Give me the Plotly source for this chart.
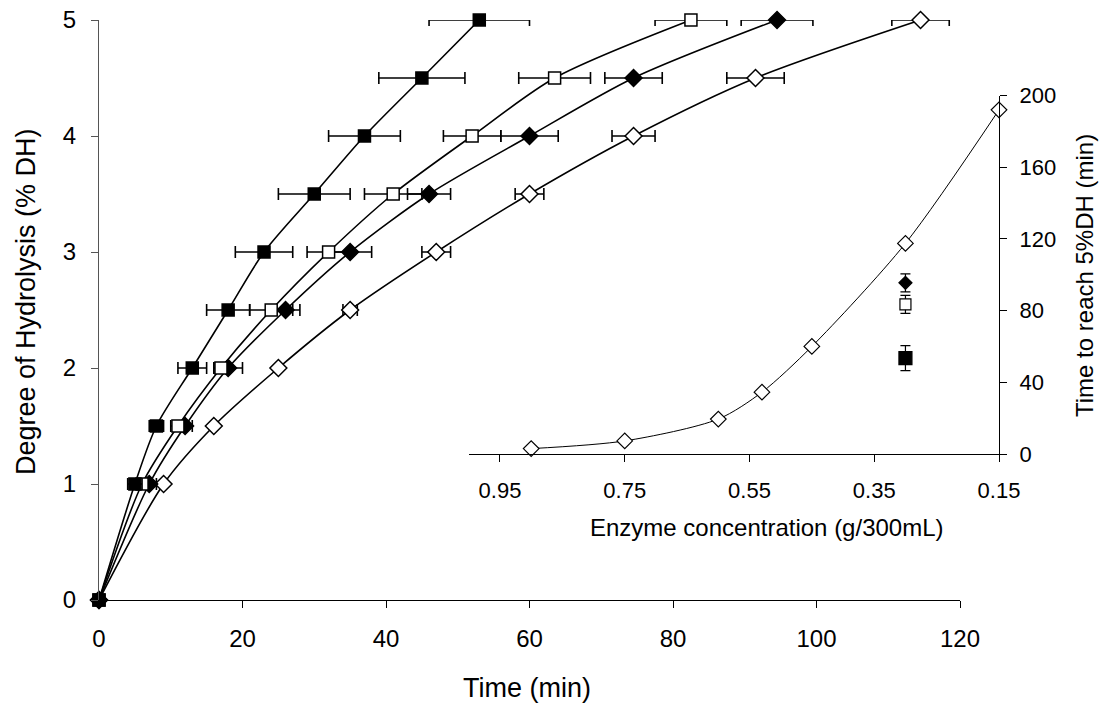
import plotly.graph_objects as go

# Degree of hydrolysis levels (% DH)
dh_levels = [0, 1, 1.5, 2, 2.5, 3, 3.5, 4, 4.5, 5]

# Time (min) needed to reach each DH level, per enzyme dose
time_sq_filled = [0, 5, 8, 13, 18, 23, 30, 37, 45, 53]
err_sq_filled = [0, 1, 1, 2, 3, 4, 5, 5, 6, 7]

time_sq_open = [0, 6, 11, 17, 24, 32, 41, 52, 63.5, 82.5]
err_sq_open = [0, 1, 1, 1, 3, 3, 4, 4, 5, 5]

time_dia_filled = [0, 7, 12, 18, 26, 35, 46, 60, 74.5, 94.5]
err_dia_filled = [0, 1, 1, 2, 2, 3, 3, 4, 4, 5]

time_dia_open = [0, 9, 16, 25, 35, 47, 60, 74.5, 91.5, 114.5]
err_dia_open = [0, 0, 0, 0, 1, 2, 2, 3, 4, 4]

# Inset: time to reach 5 %DH versus enzyme concentration
enzyme_conc = [0.90, 0.75, 0.60, 0.53, 0.45, 0.30, 0.15]
time_to_5dh = [3, 7.3, 19.5, 34.5, 60, 117.5, 192]

inset_conc_single = [0.30]
inset_dia_filled = [95.5]
inset_dia_filled_err = [5]
inset_sq_open = [83.5]
inset_sq_open_err = [5]
inset_sq_filled = [53.5]
inset_sq_filled_err = [7]

inset_tick_vals = [0.95, 0.75, 0.55, 0.35, 0.15]
inset_tick_text = ["0.95", "0.75", "0.55", "0.35", "0.15"]

FONT = "Liberation Sans, Arial, sans-serif"
W, H = 1107, 707

fig = go.Figure()


def main_series(x, err, symbol, fill, size):
    fig.add_trace(go.Scatter(
        x=x, y=dh_levels, mode="lines+markers",
        line=dict(color="black", width=1.6, shape="spline", smoothing=0.8),
        marker=dict(symbol=symbol, size=size, color=fill,
                    line=dict(color="black", width=1.5)),
        error_x=dict(type="data", array=err, color="black",
                     thickness=1.6, width=6),
        cliponaxis=False, showlegend=False,
        xaxis="x", yaxis="y",
    ))


main_series(time_dia_open, err_dia_open, "diamond", "white", 13)
main_series(time_dia_filled, err_dia_filled, "diamond", "black", 13)
main_series(time_sq_open, err_sq_open, "square", "white", 12)
main_series(time_sq_filled, err_sq_filled, "square", "black", 12)

# Inset traces
fig.add_trace(go.Scatter(
    x=enzyme_conc, y=time_to_5dh, mode="lines+markers",
    line=dict(color="black", width=1, shape="spline", smoothing=0.8),
    marker=dict(symbol="diamond", size=12, color="white",
                line=dict(color="black", width=1.2)),
    cliponaxis=False, showlegend=False, xaxis="x2", yaxis="y2",
))


def inset_point(y, err, symbol, fill, size):
    fig.add_trace(go.Scatter(
        x=inset_conc_single, y=y, mode="markers",
        marker=dict(symbol=symbol, size=size, color=fill,
                    line=dict(color="black", width=1.2)),
        error_y=dict(type="data", array=err, color="black",
                     thickness=1.2, width=5),
        cliponaxis=False, showlegend=False, xaxis="x2", yaxis="y2",
    ))


inset_point(inset_dia_filled, inset_dia_filled_err, "diamond", "black", 10)
inset_point(inset_sq_open, inset_sq_open_err, "square", "white", 11)
inset_point(inset_sq_filled, inset_sq_filled_err, "square", "black", 13)

axis_common = dict(showgrid=False, zeroline=False, showline=True,
                   automargin=False,
                   ticks="outside", ticklen=7, tickwidth=1.2, linewidth=1.2)

fig.update_layout(
    template="none",
    width=W, height=H,
    margin=dict(l=0, r=0, t=0, b=0, pad=0),
    paper_bgcolor="white", plot_bgcolor="rgba(0,0,0,0)",
    font=dict(family=FONT, color="black"),
    xaxis=dict(domain=[99 / W, 960 / W], range=[0, 120], dtick=20,
               tickfont=dict(size=24), ticklabelstandoff=10,
               linecolor="black", tickcolor="black",
               anchor="y", **axis_common),
    yaxis=dict(domain=[(H - 600) / H, (H - 20) / H], range=[0, 5], dtick=1,
               tickfont=dict(size=24), ticklabelstandoff=10,
               linecolor="#555555", tickcolor="#555555",
               anchor="x", **axis_common),
    xaxis2=dict(domain=[468.8 / W, 999 / W], range=[1.0, 0.15],
                tickvals=inset_tick_vals, ticktext=inset_tick_text,
                tickfont=dict(size=22), ticklabelstandoff=9,
                linecolor="black", tickcolor="black",
                anchor="y2", **axis_common),
    yaxis2=dict(domain=[(H - 454) / H, (H - 95.5) / H], range=[0, 200],
                dtick=40, side="right", tickfont=dict(size=22),
                ticklabelstandoff=8, linecolor="black", tickcolor="black",
                anchor="x2", **axis_common),
    annotations=[
        dict(text="Time (min)", x=527 / W, y=(H - 688) / H,
             xref="paper", yref="paper", showarrow=False,
             font=dict(size=27), xanchor="center", yanchor="middle"),
        dict(text="Degree of Hydrolysis (% DH)", x=26 / W, y=(H - 302) / H,
             xref="paper", yref="paper", showarrow=False, textangle=-90,
             font=dict(size=27), xanchor="center", yanchor="middle"),
        dict(text="Enzyme concentration (g/300mL)", x=767 / W,
             y=(H - 527) / H, xref="paper", yref="paper", showarrow=False,
             font=dict(size=24), xanchor="center", yanchor="middle"),
        dict(text="Time to reach 5%DH (min)", x=1084 / W, y=(H - 276) / H,
             xref="paper", yref="paper", showarrow=False, textangle=-90,
             font=dict(size=24), xanchor="center", yanchor="middle"),
    ],
)

fig.write_html("out.html")
